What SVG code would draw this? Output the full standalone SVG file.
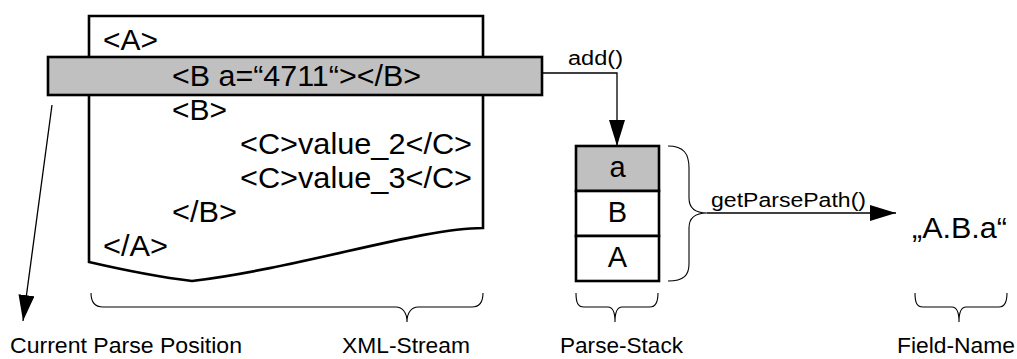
<svg xmlns="http://www.w3.org/2000/svg" width="1017" height="359" viewBox="0 0 1017 359">
<style>
text{font-family:"Liberation Sans",Arial,sans-serif;fill:#000}
.code{font-size:29px}
.lbl{font-size:22px}
.small{font-size:20px}
.thick{fill:#fff;stroke:#000;stroke-width:2.6}
.gray{fill:#c0c0c0;stroke:#000;stroke-width:2.6}
.line{fill:none;stroke:#000;stroke-width:1.3}
.brace{fill:none;stroke:#000;stroke-width:1.1}
</style>
<defs>
<marker id="ah" markerWidth="26" markerHeight="16" refX="26" refY="8" orient="auto" markerUnits="userSpaceOnUse">
<path d="M0,0 L26,8 L0,16 Z" fill="#000"/>
</marker>
</defs>
<g id="xml-stream">
<path class="thick" d="M89,16 H483 V228 C420,228 300,268 192,281 C150,276 115,268 89,262 Z"/>
<text class="code" x="103" y="50" textLength="55" lengthAdjust="spacingAndGlyphs">&lt;A&gt;</text>
<text class="code" x="172" y="120" textLength="55" lengthAdjust="spacingAndGlyphs">&lt;B&gt;</text>
<text class="code" x="240" y="154" textLength="232" lengthAdjust="spacingAndGlyphs">&lt;C&gt;value_2&lt;/C&gt;</text>
<text class="code" x="240" y="188" textLength="232" lengthAdjust="spacingAndGlyphs">&lt;C&gt;value_3&lt;/C&gt;</text>
<text class="code" x="172" y="222" textLength="65" lengthAdjust="spacingAndGlyphs">&lt;/B&gt;</text>
<text class="code" x="103" y="256" textLength="65" lengthAdjust="spacingAndGlyphs">&lt;/A&gt;</text>
</g>
<g id="current-element">
<rect class="gray" x="48" y="57" width="494" height="38"/>
<text class="code" x="172" y="86" textLength="249" lengthAdjust="spacingAndGlyphs">&lt;B a=“4711“&gt;&lt;/B&gt;</text>
</g>
<g id="parse-stack">
<rect class="gray" x="576" y="146" width="83" height="45"/>
<rect class="thick" x="576" y="191" width="83" height="45"/>
<rect class="thick" x="576" y="236" width="83" height="45"/>
<text class="code" x="617.5" y="177" text-anchor="middle">a</text>
<text class="code" x="617.5" y="222" text-anchor="middle">B</text>
<text class="code" x="617.5" y="267" text-anchor="middle">A</text>
</g>
<g id="field-name">
<text class="code" x="912" y="238" textLength="95" lengthAdjust="spacingAndGlyphs">„A.B.a“</text>
</g>
<g id="connectors">
<path class="line" d="M542,73 H617 V146" marker-end="url(#ah)"/>
<text class="small" x="568" y="65" textLength="55" lengthAdjust="spacingAndGlyphs">add()</text>
<path class="brace" d="M668,146 C684,146 689,154 689,168 L689,198 C689,208 695,213 707,213 C695,213 689,218 689,228 L689,264 C689,275 684,281 668,281"/>
<path class="line" d="M707,213 H896" marker-end="url(#ah)"/>
<text class="small" x="711" y="207" textLength="155" lengthAdjust="spacingAndGlyphs">getParsePath()</text>
<path class="line" d="M52,105 L23,321" marker-end="url(#ah)"/>
</g>
<g id="braces">
<path class="brace" d="M91,293 C91,303 95,307 103,307 L396,307 C402,307 407,312 407,322 C407,312 412,307 418,307 L472,307 C479,307 483,303 483,293"/>
<path class="brace" d="M576,293 C576,303 578,307 584,307 L608,307 C612,307 615,312 615,322 C615,312 618,307 622,307 L650,307 C655,307 658,303 658,293"/>
<path class="brace" d="M915,293 C915,303 917,307 923,307 L952,307 C956,307 959,312 959,322 C959,312 962,307 966,307 L999,307 C1004,307 1007,303 1007,293"/>
</g>
<g id="labels">
<text class="lbl" x="10" y="353" textLength="232" lengthAdjust="spacingAndGlyphs">Current Parse Position</text>
<text class="lbl" x="342" y="353" textLength="128" lengthAdjust="spacingAndGlyphs">XML-Stream</text>
<text class="lbl" x="560" y="353" textLength="123" lengthAdjust="spacingAndGlyphs">Parse-Stack</text>
<text class="lbl" x="897" y="353" textLength="118" lengthAdjust="spacingAndGlyphs">Field-Name</text>
</g>
</svg>
